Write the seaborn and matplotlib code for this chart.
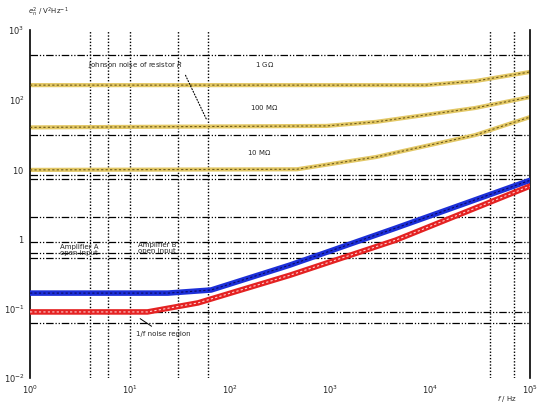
import matplotlib
matplotlib.use("Agg")
import matplotlib.pyplot as plt
import seaborn as sns

# data (frequency in Hz, noise level)
f_blue = [1, 24, 65, 400, 4600, 1e5]
s_blue = [0.166, 0.166, 0.184, 0.42, 1.43, 6.9]

f_red = [1, 15, 48, 400, 4600, 1e5]
s_red = [0.089, 0.089, 0.12, 0.30, 0.96, 5.7]

f_r1 = [1, 9100, 28500, 1e5]
s_r1 = [162, 162, 185, 250]
f_r2 = [1, 930, 2900, 28500, 1e5]
s_r2 = [40, 42, 48, 76, 109]
f_r3 = [1, 470, 2900, 28500, 1e5]
s_r3 = [9.8, 10, 15, 31, 56]

h_levels = [440, 31, 8.3, 7.2, 2.06, 0.90, 0.625, 0.53, 0.089, 0.062]
v_freqs = [4, 6, 10, 30, 60, 40000, 70000]

x_ticks = [1, 10, 100, 1000, 10000, 100000]
x_labels = ["$10^0$", "$10^1$", "$10^2$", "$10^3$", "$10^4$", "$10^5$"]
y_ticks = [0.01, 0.1, 1, 10, 100, 1000]
y_labels = ["$10^{-2}$", "$10^{-1}$", "$1$", "$10$", "$10^2$", "$10^3$"]

sns.set_style("white")
fig = plt.figure(figsize=(5.4, 4.04), dpi=100)
ax = fig.add_axes([0.0556, 0.0644, 0.925, 0.861])
ax.set_xscale("log")
ax.set_yscale("log")
ax.set_xlim(1, 1e5)
ax.set_ylim(0.01, 1000)

# reference levels
for h in h_levels:
    ax.axhline(h, color="black", lw=0.9, ls=(0, (6, 1.5, 1, 1.5, 1, 1.5)), zorder=1)
for v in v_freqs:
    ax.axvline(v, color="black", lw=1.0, ls=(0, (1, 1.3)), zorder=1)

# resistor noise curves
for fx, sy in [(f_r1, s_r1), (f_r2, s_r2), (f_r3, s_r3)]:
    sns.lineplot(x=fx, y=sy, ax=ax, color="#e3c866", lw=3, zorder=2)
    sns.lineplot(x=fx, y=sy, ax=ax, color="#6e5a1a", lw=0.8, ls=(0, (2, 2)), zorder=3)

# amplifier curves
sns.lineplot(x=f_blue, y=s_blue, ax=ax, color="#1c2fd8", lw=4, zorder=4)
sns.lineplot(x=f_blue, y=s_blue, ax=ax, color="#0a0a60", lw=0.8, ls=(0, (2, 2)), zorder=5)
sns.lineplot(x=f_red, y=s_red, ax=ax, color="#e42222", lw=4, zorder=4)
sns.lineplot(x=f_red, y=s_red, ax=ax, color="#ffd0d0", lw=0.8, ls=(0, (2, 2)), zorder=5)

ax.set_xticks(x_ticks)
ax.set_xticklabels(x_labels, fontsize=6)
ax.set_yticks(y_ticks)
ax.set_yticklabels(y_labels, fontsize=6)
ax.minorticks_off()
ax.tick_params(length=0, pad=4)
for side in ["top", "bottom"]:
    ax.spines[side].set_visible(False)
for side in ["left", "right"]:
    ax.spines[side].set_color("black")
    ax.spines[side].set_linewidth(1.2)

fs = 5
ax.text(-0.005, 1.045, "$e_n^2$ / V$^2$Hz$^{-1}$", transform=ax.transAxes, fontsize=fs)
ax.text(0.935, -0.045, "$f$ / Hz", transform=ax.transAxes, fontsize=fs, va="top")

ax.annotate("Johnson noise of resistor $R$", xy=(60, 48), xytext=(3.8, 300),
            fontsize=fs, arrowprops=dict(arrowstyle="-", ls=":", color="black", lw=0.8,
                                         relpos=(1.0, 0.0)))
ax.text(180, 300, "1 G$\\Omega$", fontsize=fs)
ax.text(160, 70, "100 M$\\Omega$", fontsize=fs)
ax.text(150, 16, "10 M$\\Omega$", fontsize=fs)
ax.text(2.0, 0.58, "Amplifier A\nopen input", fontsize=fs, linespacing=1.1)
ax.text(12, 0.62, "Amplifier B\nopen input", fontsize=fs, linespacing=1.1)
ax.annotate("1/f noise region", xy=(12, 0.075), xytext=(11.5, 0.04),
            fontsize=fs, arrowprops=dict(arrowstyle="-", color="black", lw=0.7))

fig.savefig("out.png", dpi=100)
